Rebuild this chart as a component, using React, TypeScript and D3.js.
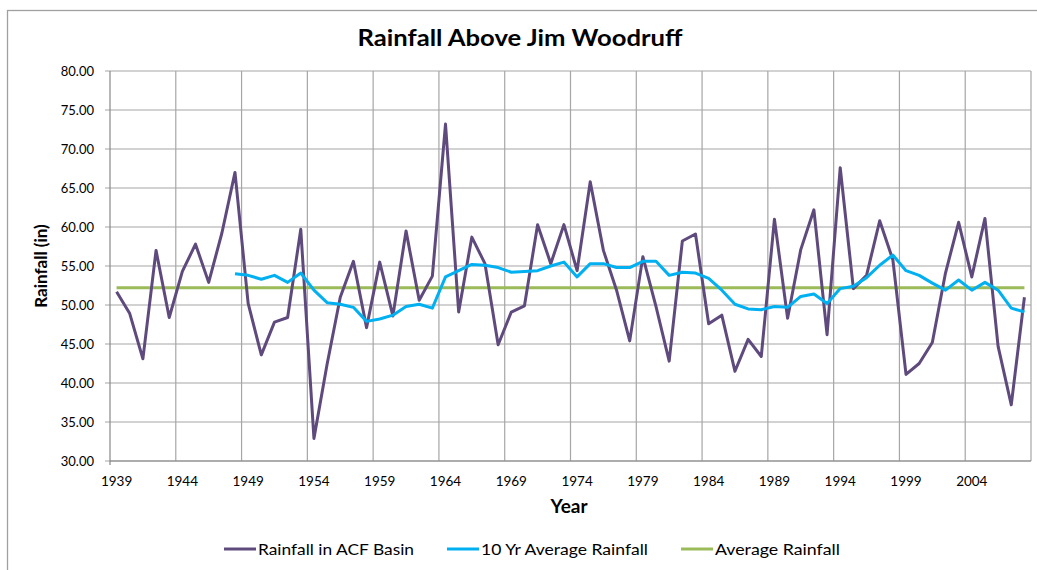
import * as d3 from "d3";

const years = d3.range(1939, 2009);

// annual rainfall in the ACF basin, 1939-2008
const rainfall = [
  51.7, 48.9, 43.1, 57.0, 48.4, 54.3, 57.8, 52.9, 59.2, 67.0,
  50.2, 43.6, 47.8, 48.4, 59.7, 32.9, 42.4, 51.0, 55.6, 47.1,
  55.5, 48.6, 59.5, 50.6, 53.7, 73.2, 49.1, 58.7, 55.3, 44.9,
  49.1, 49.9, 60.3, 55.3, 60.3, 54.4, 65.8, 57.0, 51.9, 45.4,
  56.2, 49.8, 42.8, 58.2, 59.1, 47.6, 48.7, 41.5, 45.6, 43.4,
  61.0, 48.3, 57.1, 62.2, 46.2, 67.6, 52.1, 53.8, 60.8, 55.8,
  41.1, 42.5, 45.2, 54.1, 60.6, 53.6, 61.1, 44.7, 37.2, 51.0,
];

// 10 yr average, starting 1948
const tenYrStart = 1948;
const tenYrAvg = [
  54.0, 53.8, 53.3, 53.8, 52.9, 54.1, 51.9, 50.3, 50.1, 49.7,
  47.9, 48.2, 48.7, 49.8, 50.1, 49.6, 53.6, 54.4, 55.2, 55.1,
  54.8, 54.2, 54.3, 54.4, 55.0, 55.5, 53.6, 55.3, 55.3, 54.8,
  54.8, 55.6, 55.6, 53.8, 54.2, 54.1, 53.4, 51.9, 50.1, 49.5,
  49.4, 49.8, 49.7, 51.1, 51.4, 50.2, 52.1, 52.4, 53.5, 55.1,
  56.4, 54.4, 53.8, 52.8, 51.9, 53.2, 51.9, 52.9, 51.9, 49.6,
  49.1,
];

const averageRainfall = 52.2;

const yTicks = [30, 35, 40, 45, 50, 55, 60, 65, 70, 75, 80];
const xTickYears = d3.range(1939, 2009, 5);

const series = [
  { name: "Rainfall in ACF Basin", color: "#5f4a7e" },
  { name: "10 Yr Average Rainfall", color: "#00b0f0" },
  { name: "Average Rainfall", color: "#9bbb59" },
];

const W = 1037;
const H = 570;
const plot = { left: 110, right: 1031, top: 71, bottom: 461 };
const font = "Lato, 'Open Sans', sans-serif";

export default function App() {
  const x = d3
    .scaleBand<number>()
    .domain(years)
    .range([plot.left, plot.right])
    .paddingInner(0)
    .paddingOuter(0);
  const bw = x.bandwidth();
  const cx = (yr: number) => x(yr)! + bw / 2;
  const y = d3.scaleLinear().domain([30, 80]).range([plot.bottom, plot.top]);

  const line = d3
    .line<[number, number]>()
    .x((d) => cx(d[0]))
    .y((d) => y(d[1]));

  const rainPts: [number, number][] = rainfall.map((v, i) => [years[i], v]);
  const tenPts: [number, number][] = tenYrAvg.map((v, i) => [tenYrStart + i, v]);
  const avgPts: [number, number][] = years.map((yr) => [yr, averageRainfall]);

  const grid = "#a6a6a6";
  const legendItems = [
    { ...series[0], x: 224, tw: 156 },
    { ...series[1], x: 447, tw: 167 },
    { ...series[2], x: 681, tw: 125 },
  ];

  return (
    <div style={{ position: "absolute", left: 0, top: 0 }}>
      <svg width={W} height={H} style={{ display: "block", background: "#fff" }}>
        <rect x={7.5} y={10.5} width={W} height={H} fill="#fff" stroke="#a0a0a0" strokeWidth={1.3} />

        {/* horizontal gridlines */}
        {yTicks.map((t) => (
          <line key={"h" + t} x1={plot.left - 5} x2={plot.right} y1={y(t)} y2={y(t)} stroke={grid} strokeWidth={1.2} />
        ))}
        {/* vertical gridlines */}
        {xTickYears.slice(1).map((yr) => (
          <line key={"v" + yr} x1={x(yr)!} x2={x(yr)!} y1={plot.top} y2={plot.bottom} stroke={grid} strokeWidth={1.2} />
        ))}
        <line x1={plot.right} x2={plot.right} y1={plot.top} y2={plot.bottom} stroke={grid} strokeWidth={1.2} />
        {/* axes */}
        <line x1={plot.left} x2={plot.left} y1={plot.top} y2={plot.bottom + 4} stroke="#888" strokeWidth={1.2} />
        <line x1={plot.left} x2={plot.right} y1={plot.bottom} y2={plot.bottom} stroke="#888" strokeWidth={1.2} />

        {yTicks.map((t) => (
          <text key={"yl" + t} x={94} y={y(t)} dy="0.35em" textAnchor="end" fontFamily={font} fontSize={13} fill="#000">
            {t.toFixed(2)}
          </text>
        ))}
        {xTickYears.map((yr) => (
          <text key={"xl" + yr} x={cx(yr)} y={481} dy="0.35em" textAnchor="middle" fontFamily={font} fontSize={13.5} fill="#000">
            {yr}
          </text>
        ))}

        <path d={line(avgPts)!} fill="none" stroke={series[2].color} strokeWidth={3} />
        <path d={line(rainPts)!} fill="none" stroke={series[0].color} strokeWidth={3} strokeLinejoin="round" />
        <path d={line(tenPts)!} fill="none" stroke={series[1].color} strokeWidth={3} strokeLinejoin="round" />

        <text
          x={520}
          y={38}
          dy="0.35em"
          textAnchor="middle"
          fontFamily={font}
          fontWeight="bold"
          fontSize={23}
          textLength={325}
          lengthAdjust="spacingAndGlyphs"
          fill="#000"
        >
          Rainfall Above Jim Woodruff
        </text>
        <text x={569} y={506} dy="0.35em" textAnchor="middle" fontFamily={font} fontWeight="bold" fontSize={19} fill="#000">
          Year
        </text>
        <text
          transform={`translate(41,${(plot.top + plot.bottom) / 2}) rotate(-90)`}
          dy="0.35em"
          textAnchor="middle"
          fontFamily={font}
          fontWeight="bold"
          fontSize={17}
          fill="#000"
        >
          Rainfall (in)
        </text>

        {legendItems.map((s) => (
          <g key={s.name} transform={`translate(${s.x},549)`}>
            <line x1={0} x2={32} y1={0} y2={0} stroke={s.color} strokeWidth={3} />
            <text
              x={34}
              y={0}
              dy="0.35em"
              fontFamily={font}
              fontSize={16}
              textLength={s.tw}
              lengthAdjust="spacingAndGlyphs"
              fill="#000"
            >
              {s.name}
            </text>
          </g>
        ))}
      </svg>
    </div>
  );
}
